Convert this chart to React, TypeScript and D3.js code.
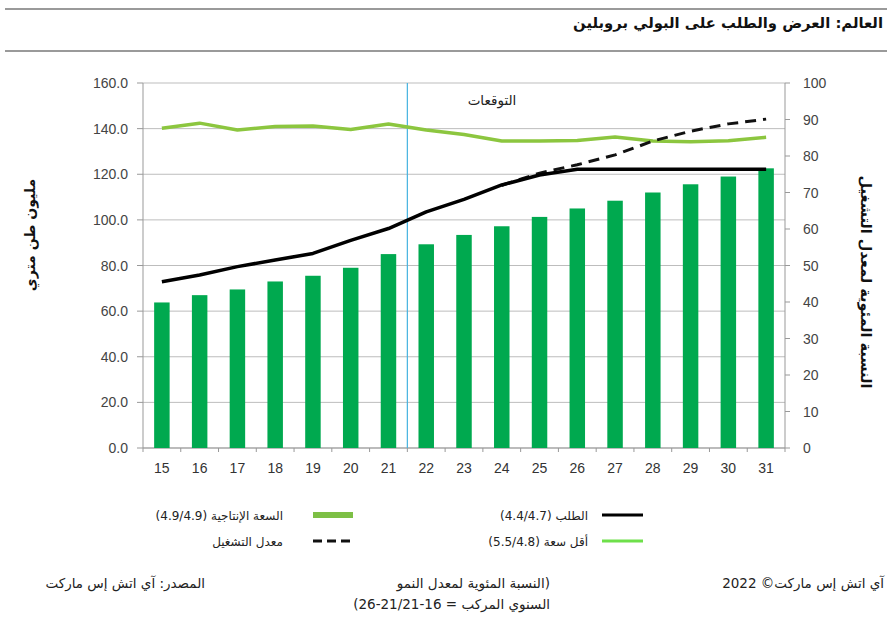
import React from "react";
import * as d3 from "d3";

const years = ["15","16","17","18","19","20","21","22","23","24","25","26","27","28","29","30","31"];
const capacityBars = [63.8, 67, 69.5, 73, 75.5, 79, 85, 89.3, 93.4, 97.2, 101.3, 105, 108.4, 112, 115.6, 119, 122.6];
const demandLine = [72.9, 75.8, 79.5, 82.4, 85.3, 91, 96.2, 103.5, 109, 115.3, 119.7, 122.2, 122.2, 122.2, 122.2, 122.2, 122.2];
const greenLine = [140.2, 142.4, 139.4, 140.9, 141.2, 139.6, 142, 139.4, 137.4, 134.6, 134.6, 134.8, 136.3, 134.6, 134.3, 134.7, 136.2];
const rateYears = ["24","25","26","27","28","29","30","31"];
const rateLine = [72, 75.3, 77.6, 80.3, 84.1, 86.8, 88.8, 90.1];
const leftTicks = [0, 20, 40, 60, 80, 100, 120, 140, 160];
const rightTicks = [0, 10, 20, 30, 40, 50, 60, 70, 80, 90, 100];

const AR = "'DejaVu Sans', sans-serif";
const NUM = "'Liberation Sans', Arial, sans-serif";

export default function App() {
  const W = 887, H = 620;
  const x0 = 143, x1 = 785, yTop = 83, yBot = 448;
  const x = d3.scaleBand<string>().domain(years).range([x0, x1]).paddingInner(0.59).paddingOuter(0.295);
  const xb = d3.scaleBand<string>().domain(years).range([x0, x1]);
  const cx = (d: string) => (xb(d) as number) + xb.bandwidth() / 2;
  const yL = d3.scaleLinear().domain([0, 160]).range([yBot, yTop]);
  const yR = d3.scaleLinear().domain([0, 100]).range([yBot, yTop]);
  const lineL = d3.line<number>().x((_, i) => cx(years[i])).y((d) => yL(d));
  const lineR = d3.line<number>().x((_, i) => cx(rateYears[i])).y((d) => yR(d));
  const boundaries = d3.range(years.length + 1).map((k) => x0 + k * xb.bandwidth());
  const forecastX = (xb("22") as number);

  const rt = (px: number, py: number, s: string, size = 12, bold = false) => (
    <text x={px} y={py} textAnchor="start" direction="rtl" fontFamily={AR} fontWeight={bold ? "bold" : "normal"} fontSize={size} fill="#222">{s}</text>
  );

  return (
    <svg width={W} height={H} style={{ position: "absolute", left: 0, top: 0, background: "#fff" }}>
      <rect width={W} height={H} fill="#fff" />
      <line x1={5} x2={887} y1={9} y2={9} stroke="#9a9a9a" strokeWidth={2} />
      <line x1={5} x2={887} y1={51} y2={51} stroke="#9a9a9a" strokeWidth={2} />
      <text x={883} y={28} textAnchor="start" direction="rtl" fontFamily={AR} fontWeight="bold" fontSize={14.8} fill="#111">العالم: العرض والطلب على البولي بروبلين</text>

      {leftTicks.map((t) => (
        <line key={"g" + t} x1={x0} x2={x1} y1={yL(t)} y2={yL(t)} stroke="#bdbdbd" strokeWidth={1} />
      ))}
      <line x1={x0} x2={x0} y1={yTop} y2={yBot} stroke="#999" />
      <line x1={x1} x2={x1} y1={yTop} y2={yBot} stroke="#999" />
      <line x1={x0} x2={x1} y1={yBot} y2={yBot} stroke="#999" />
      {leftTicks.map((t) => (
        <g key={"l" + t}>
          <line x1={x0 - 6} x2={x0} y1={yL(t)} y2={yL(t)} stroke="#999" />
          <text x={128} y={yL(t) + 5} textAnchor="end" fontFamily={NUM} fontSize={14} fill="#444">{t.toFixed(1)}</text>
        </g>
      ))}
      {rightTicks.map((t) => (
        <g key={"r" + t}>
          <line x1={x1} x2={x1 + 5} y1={yR(t)} y2={yR(t)} stroke="#999" />
          <text x={803} y={yR(t) + 5} textAnchor="start" fontFamily={NUM} fontSize={14} fill="#444">{t}</text>
        </g>
      ))}
      {boundaries.map((b, i) => (
        <line key={"b" + i} x1={b} x2={b} y1={yBot} y2={yBot + 4} stroke="#999" />
      ))}
      {years.map((y) => (
        <text key={"x" + y} x={cx(y)} y={473} textAnchor="middle" fontFamily={NUM} fontSize={14} fill="#333">{y}</text>
      ))}

      {years.map((y, i) => (
        <rect key={"bar" + y} x={x(y) as number} y={yL(capacityBars[i])} width={x.bandwidth()} height={yBot - yL(capacityBars[i])} fill="#00a94f" />
      ))}

      <line x1={forecastX} x2={forecastX} y1={yTop} y2={yBot} stroke="#45b3e0" strokeWidth={1.2} />
      <text x={492} y={105} textAnchor="middle" direction="rtl" fontFamily={AR} fontSize={13.5} fill="#222">التوقعات</text>

      <path d={lineL(greenLine) as string} fill="none" stroke="#8cc63f" strokeWidth={3.5} strokeLinejoin="round" />
      <path d={lineR(rateLine) as string} fill="none" stroke="#111" strokeWidth={3} strokeDasharray="11,7" />
      <path d={lineL(demandLine) as string} fill="none" stroke="#000" strokeWidth={3.5} strokeLinejoin="round" />

      <text transform="translate(35,235) rotate(-90)" textAnchor="middle" direction="rtl" fontFamily={AR} fontWeight="bold" fontSize={14} fill="#111">مليون طن متري</text>
      <text transform="translate(861,282) rotate(90)" textAnchor="middle" direction="rtl" fontFamily={AR} fontWeight="bold" fontSize={14.5} fill="#111">النسبة المئوية لمعدل التشغيل</text>

      <line x1={313} x2={353} y1={515} y2={515} stroke="#7dbf45" strokeWidth={6} />
      {rt(283, 520, "السعة الإنتاجية (4.9/4.9)")}
      <line x1={313} x2={353} y1={541} y2={541} stroke="#111" strokeWidth={3} strokeDasharray="9,5" />
      {rt(283, 546, "معدل التشغيل")}
      <line x1={602} x2={643} y1={515} y2={515} stroke="#000" strokeWidth={3} />
      {rt(588, 520, "الطلب (4.4/4.7)")}
      <line x1={602} x2={643} y1={541} y2={541} stroke="#6ee04a" strokeWidth={3} />
      {rt(588, 546, "أقل سعة (5.5/4.8)")}

      {rt(884, 588, "آي اتش إس ماركت© 2022", 13.5)}
      {rt(205, 588, "المصدر: آي اتش إس ماركت", 13.5)}
      {rt(550, 588, "(النسبة المئوية لمعدل النمو", 13.5)}
      {rt(550, 609, "السنوي المركب = 16-21/21-26)", 13.5)}
    </svg>
  );
}
